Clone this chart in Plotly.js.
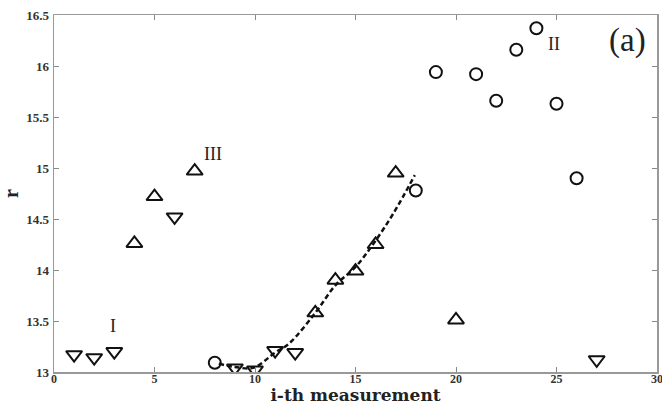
<!DOCTYPE html>
<html>
<head>
<meta charset="utf-8">
<script src="https://cdn.plot.ly/plotly-3.0.1.min.js"></script>
<style>html,body{margin:0;padding:0;background:#fff;}#chart{width:662px;height:405px;}</style>
</head>
<body>
<div id="chart"></div>
<script>
// Series I (down triangles)
var downX = [1, 2, 3, 6, 9, 10, 11, 12, 27];
var downY = [13.17, 13.14, 13.20, 14.52, 13.04, 13.02, 13.21, 13.19, 13.12];
// Series III (up triangles)
var upX = [4, 5, 7, 13, 14, 15, 16, 17, 20];
var upY = [14.26, 14.72, 14.97, 13.58, 13.90, 13.99, 14.25, 14.95, 13.51];
// Series II (circles)
var circX = [8, 18, 19, 21, 22, 23, 24, 25, 26];
var circY = [13.09, 14.78, 15.94, 15.92, 15.66, 16.16, 16.37, 15.63, 14.90];
// Dashed fit curve
var fitX = [8.2, 9.0, 9.9, 11.0, 11.7, 13.0, 14.0, 15.0, 15.9, 16.9, 17.95];
var fitY = [13.08, 13.05, 13.04, 13.19, 13.28, 13.58, 13.85, 14.03, 14.26, 14.56, 14.93];
// Labels
var labelText = ['I', 'II', 'III'];
var labelX = [2.95, 24.9, 7.9];
var labelY = [13.45, 16.22, 15.14];

var serif = 'Liberation Serif, DejaVu Serif, serif';
var traces = [
  {x: fitX, y: fitY, mode: 'lines', line: {color: '#111', width: 2.5, dash: '5px,3px', shape: 'spline'}, hoverinfo: 'skip'},
  {x: downX, y: downY, mode: 'markers', marker: {symbol: 'triangle-down-open', size: 14, color: '#111', line: {width: 2}}},
  {x: upX, y: upY, mode: 'markers', marker: {symbol: 'triangle-up-open', size: 14, color: '#111', line: {width: 2}}},
  {x: circX, y: circY, mode: 'markers', marker: {symbol: 'circle-open', size: 12, color: '#111', line: {width: 2}}}
];
var annotations = labelText.map(function(t, i) {
  return {x: labelX[i], y: labelY[i], xref: 'x', yref: 'y', text: t, showarrow: false,
    font: {family: serif, size: 18, color: '#222'}};
});
annotations.push({x: 0.985, y: 0.985, xref: 'paper', yref: 'paper', xanchor: 'right', yanchor: 'top', text: '(a)', showarrow: false,
  font: {family: serif, size: 33, color: '#222'}});

var axisCommon = {
  showgrid: false, zeroline: false, showline: true, linecolor: '#999', linewidth: 1.5,
  mirror: 'ticks', ticks: 'inside', ticklen: 5, tickcolor: '#888', tickwidth: 1,
  tickfont: {family: serif, size: 13, color: '#333', weight: 'bold'}
};
var layout = {
  width: 662, height: 405,
  margin: {l: 54, r: 5, t: 15, b: 33},
  paper_bgcolor: '#fff', plot_bgcolor: '#fff',
  showlegend: false,
  xaxis: Object.assign({}, axisCommon, {range: [0, 30], tickvals: [0, 5, 10, 15, 20, 25, 30],
    ticklabeloverflow: 'allow', ticklabelstandoff: -5,
    tickfont: {family: serif, size: 12, color: '#333', weight: 'bold'},
    title: {text: 'i-th measurement', font: {family: 'DejaVu Serif, serif', size: 17, color: '#222', weight: 'bold'}, standoff: 3}}),
  yaxis: Object.assign({}, axisCommon, {range: [13, 16.5], tickvals: [13, 13.5, 14, 14.5, 15, 15.5, 16, 16.5],
    ticklabelstandoff: 1,
    title: {text: 'r', font: {family: serif, size: 20, color: '#222', weight: 'bold'}, standoff: 8}}),
  annotations: annotations
};
Plotly.newPlot('chart', traces, layout, {displayModeBar: false, staticPlot: true});
</script>
</body>
</html>
